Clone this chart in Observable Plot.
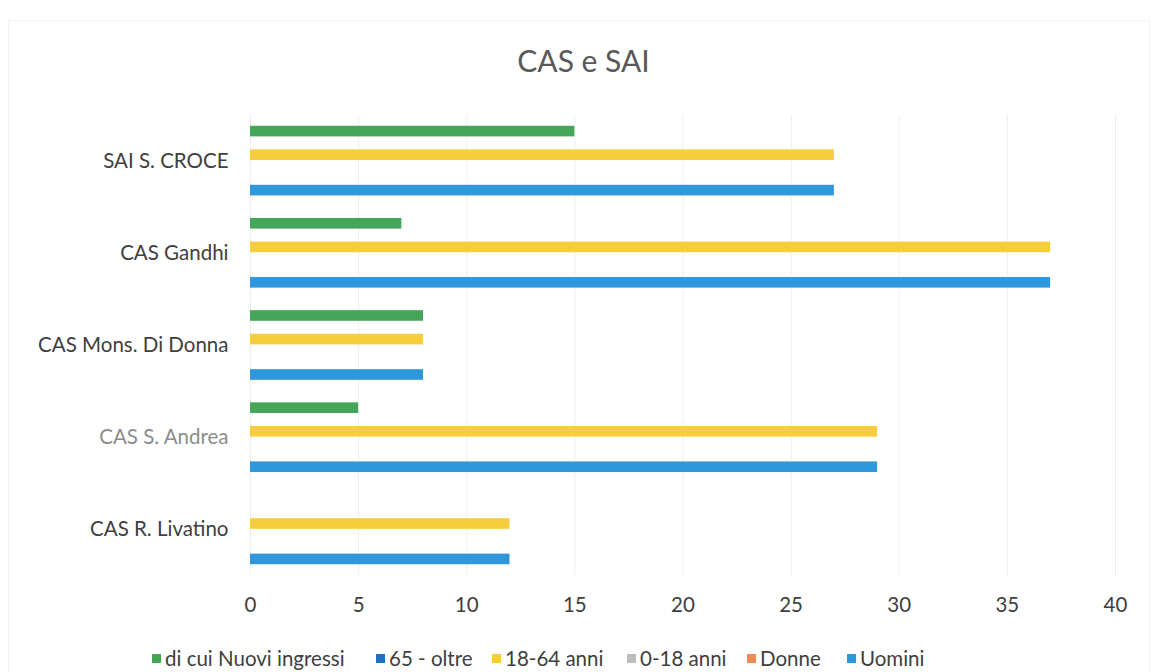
<!DOCTYPE html>
<html><head><meta charset="utf-8">
<script src="https://cdn.jsdelivr.net/npm/d3@7"></script>
<script src="https://cdn.jsdelivr.net/npm/@observablehq/plot@0.6"></script>
<style>
body{margin:0;background:#fff;font-family:Lato,"Open Sans",sans-serif;}
#wrap{position:relative;width:1151px;height:672px;overflow:hidden;}
#frame{position:absolute;left:8px;top:20px;width:1140px;height:660px;border:1px solid #f2f2f2;}
#title{position:absolute;top:42px;left:8px;width:1151px;text-align:center;font-size:30px;color:#595959;}
#chart{position:absolute;top:100px;left:0;}
#legend{position:absolute;top:646px;left:0;width:1151px;height:28px;font-size:20.5px;color:#404040;white-space:nowrap;}
#legend .it{position:absolute;top:0;display:flex;align-items:center;}
#legend .sw{width:9px;height:9px;margin-right:4px;}
</style></head>
<body><div id="wrap"><div id="frame"></div><div id="title">CAS e SAI</div><div id="chart"></div><div id="legend"></div></div>
<script>
const categories = ["SAI S. CROCE","CAS Gandhi","CAS Mons. Di Donna","CAS S. Andrea","CAS R. Livatino"];
const series = ["di cui Nuovi ingressi","65 - oltre","18-64 anni","0-18 anni","Donne","Uomini"];
const colors = ["#45a558","#1f6fc2","#f6cd3d","#bdbdbd","#ef8b55","#2f97dc"];
const nuoviIngressi = [15,7,8,5,0];
const oltre65 = [0,0,0,0,0];
const anni1864 = [27,37,8,29,12];
const anni018 = [0,0,0,0,0];
const donne = [0,0,0,0,0];
const uomini = [27,37,8,29,12];
const xTicks = [0,5,10,15,20,25,30,35,40];
const legendLeft = [152,376,492,627,747,847];

const seriesValues = [nuoviIngressi,oltre65,anni1864,anni018,donne,uomini];
const rows = [];
categories.forEach((c,i)=>series.forEach((s,j)=>rows.push({category:c,series:s,value:seriesValues[j][i]})));

const font = {fontSize:"20.5px",fontFamily:"Lato, 'Open Sans', sans-serif",color:"#404040",background:"transparent"};
const chart = Plot.plot({
  width:1151, height:520,
  marginLeft:250, marginRight:36, marginTop:14.5, marginBottom:44.5,
  style:font,
  x:{domain:[0,40], ticks:xTicks, tickSize:0, tickPadding:21, label:null},
  y:{domain:series, axis:null, paddingInner:0.1, paddingOuter:0.955, round:false},
  fy:{domain:categories, padding:0, label:null, tickSize:0, tickPadding:22, round:false},
  color:{domain:series, range:colors},
  marks:[
    Plot.gridX(xTicks,{stroke:"#eeeeee", strokeOpacity:1}),
    Plot.barX(rows,{x:"value", y:"series", fy:"category", fill:"series"})
  ]
});
document.getElementById("chart").appendChild(chart);
chart.querySelectorAll("text").forEach(t=>{ if(t.textContent==="CAS S. Andrea") t.setAttribute("fill","#8c8c8c"); });

const legend = document.getElementById("legend");
series.forEach((s,i)=>{
  const it=document.createElement("div"); it.className="it"; it.style.left=legendLeft[i]+"px";
  const sw=document.createElement("div"); sw.className="sw"; sw.style.background=colors[i];
  const tx=document.createElement("span"); tx.textContent=s;
  it.appendChild(sw); it.appendChild(tx); legend.appendChild(it);
});
</script></body></html>
